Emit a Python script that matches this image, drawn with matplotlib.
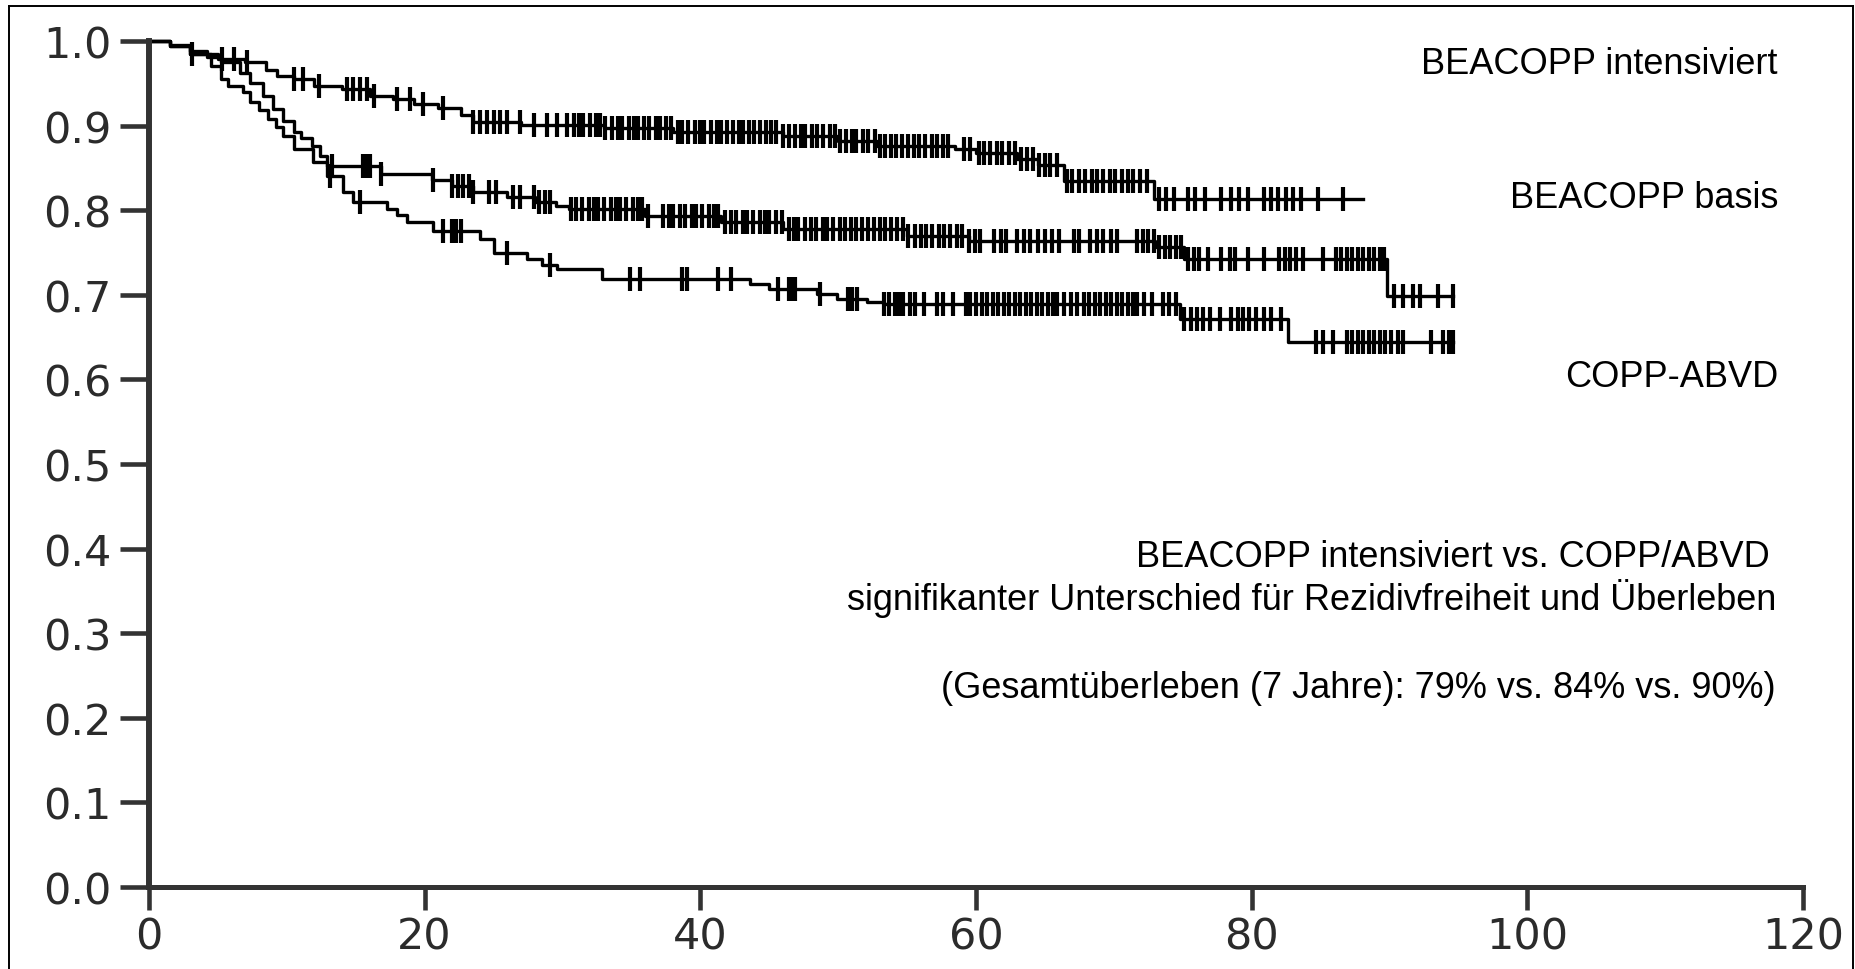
import numpy as np
import matplotlib
matplotlib.use("Agg")
import matplotlib.pyplot as plt
from matplotlib.lines import Line2D

# Kaplan-Meier Stufen (Monate, Anteil ohne Ereignis)
intens_t = [0, 1.5, 3.0, 5.0, 7.0, 8.5, 9.3, 10.5, 12.0, 14.0, 16.0, 17.7, 19.2, 21.0,
            22.6, 23.5, 27.0, 33.0, 38.0, 46.0, 50.0, 52.8, 58.5, 60.0, 63.0, 64.5,
            66.4, 72.9, 88.1]
intens_s = [1.0, 0.994, 0.985, 0.979, 0.975, 0.966, 0.959, 0.955, 0.947, 0.943, 0.935,
            0.931, 0.925, 0.921, 0.912, 0.904, 0.901, 0.897, 0.892, 0.888, 0.882, 0.876,
            0.872, 0.868, 0.861, 0.853, 0.834, 0.813, 0.813]

basis_t = [0, 1.5, 3.0, 4.2, 5.2, 6.6, 7.3, 8.3, 9.0, 9.7, 10.5, 11.0, 11.8, 12.4, 12.9,
           16.8, 20.5, 22.0, 23.5, 26.0, 28.0, 29.5, 30.5, 36.0, 41.5, 46.0, 55.0, 59.5,
           73.0, 75.1, 89.8, 94.6]
basis_s = [1.0, 0.995, 0.988, 0.981, 0.975, 0.962, 0.950, 0.935, 0.920, 0.905, 0.893,
           0.885, 0.876, 0.864, 0.852, 0.843, 0.836, 0.829, 0.822, 0.816, 0.810, 0.805,
           0.801, 0.793, 0.786, 0.778, 0.770, 0.764, 0.757, 0.742, 0.698, 0.698]

copp_t = [0, 1.5, 3.0, 4.5, 5.2, 5.7, 6.8, 7.3, 8.0, 8.6, 9.2, 9.7, 10.5, 11.9, 12.9,
          14.1, 14.8, 17.3, 18.0, 18.7, 20.6, 24.0, 25.0, 27.4, 28.5, 29.6, 32.9, 43.6,
          45.0, 48.5, 49.9, 52.1, 53.3, 74.8, 82.6, 94.6]
copp_s = [1.0, 0.994, 0.985, 0.970, 0.955, 0.947, 0.940, 0.928, 0.918, 0.908, 0.898,
          0.888, 0.872, 0.857, 0.840, 0.821, 0.810, 0.802, 0.794, 0.786, 0.776, 0.766,
          0.750, 0.742, 0.735, 0.730, 0.719, 0.713, 0.707, 0.701, 0.695, 0.691, 0.689,
          0.671, 0.644, 0.644]

# zensierte Beobachtungen
intens_cens = [3.1, 5.3, 6.2, 7.1, 10.5, 11.2, 12.3, 14.4, 14.8, 15.3, 15.8, 16.3, 18.0,
               18.9, 19.9, 21.3, 23.5, 24.0, 24.5, 25.0, 25.5, 26.0, 26.9, 27.9, 28.9,
               29.6, 30.3, 30.8, 31.2, 31.5, 32.0, 32.4, 32.7, 33.1, 33.6, 34.0, 34.3,
               34.8, 35.2, 35.5, 35.9, 36.3, 36.8, 37.1, 37.5, 37.9, 38.4, 38.7, 39.1,
               39.6, 40.0, 40.3, 40.8, 41.2, 41.5, 41.9, 42.4, 42.8, 43.1, 43.5, 43.9,
               44.3, 44.8, 45.1, 45.5, 46.0, 46.4, 46.9, 47.3, 47.6, 48.1, 48.5, 48.9,
               49.4, 49.8, 50.1, 50.6, 51.0, 51.3, 51.8, 52.2, 52.7, 53.0, 53.4, 53.8,
               54.2, 54.6, 55.1, 55.5, 55.9, 56.3, 56.8, 57.2, 57.6, 58.0, 59.1, 59.6,
               60.2, 60.6, 61.0, 61.5, 61.9, 62.4, 62.8, 63.3, 63.7, 64.1, 64.6, 65.0,
               65.4, 65.9, 66.6, 67.0, 67.5, 67.9, 68.4, 68.8, 69.2, 69.7, 70.1, 70.6,
               71.0, 71.4, 71.9, 72.4, 73.3, 73.8, 74.4, 75.4, 75.9, 76.6, 77.8, 78.5,
               79.1, 79.7, 80.9, 81.4, 81.9, 82.5, 83.0, 83.6, 84.8, 86.6]

basis_cens = [13.3, 15.5, 15.8, 16.0, 16.8, 20.6, 22.0, 22.4, 22.8, 23.2, 23.5, 24.7,
              25.2, 26.4, 26.9, 27.9, 28.3, 28.7, 29.1, 30.6, 31.0, 31.4, 31.9, 32.3,
              32.6, 33.0, 33.5, 33.9, 34.2, 34.6, 35.1, 35.5, 35.8, 36.2, 37.3, 37.7,
              38.0, 38.5, 38.9, 39.4, 39.7, 40.1, 40.6, 41.0, 41.3, 41.8, 42.2, 42.6,
              43.1, 43.4, 43.8, 44.3, 44.7, 45.0, 45.5, 45.9, 46.4, 46.8, 47.1, 47.6,
              48.0, 48.4, 48.9, 49.2, 49.6, 50.1, 50.5, 50.9, 51.3, 51.7, 52.2, 52.6,
              53.0, 53.4, 53.8, 54.3, 54.7, 55.1, 55.6, 56.0, 56.4, 56.8, 57.3, 57.7,
              58.1, 58.6, 59.0, 59.5, 59.9, 60.3, 61.3, 61.8, 62.2, 63.0, 63.5, 63.9,
              64.5, 65.0, 65.5, 66.0, 67.1, 67.5, 68.3, 68.8, 69.2, 69.8, 70.2, 71.7,
              72.1, 72.5, 72.9, 73.3, 73.7, 74.1, 74.5, 74.9, 75.4, 75.8, 76.2, 76.8,
              77.8, 78.4, 78.8, 79.7, 80.9, 82.0, 82.4, 82.8, 83.2, 83.7, 85.2, 86.1,
              86.5, 86.9, 87.3, 87.7, 88.1, 88.5, 88.9, 89.3, 89.6, 90.3, 91.0, 91.7,
              92.2, 93.5, 94.6]

copp_cens = [13.1, 15.3, 21.3, 22.0, 22.3, 22.6, 26.0, 29.1, 34.9, 35.6, 38.7, 39.0,
             41.3, 42.2, 45.6, 46.4, 46.7, 46.9, 48.7, 50.7, 51.0, 51.4, 53.3, 53.7,
             54.1, 54.4, 54.7, 55.2, 55.6, 56.2, 57.2, 57.6, 58.3, 59.3, 59.6, 60.0,
             60.4, 60.8, 61.2, 61.6, 62.0, 62.4, 62.8, 63.2, 63.6, 64.0, 64.4, 64.8,
             65.2, 65.6, 65.9, 66.4, 66.9, 67.3, 67.8, 68.2, 68.6, 69.0, 69.4, 69.8,
             70.2, 70.6, 71.0, 71.4, 71.7, 72.2, 72.8, 73.6, 74.0, 74.5, 75.1, 75.6,
             76.0, 76.5, 77.0, 77.7, 78.5, 79.0, 79.4, 79.8, 80.3, 80.9, 81.4, 82.1,
             84.7, 85.2, 85.9, 86.9, 87.3, 87.7, 88.1, 88.5, 88.9, 89.3, 89.7, 90.1,
             90.6, 91.0, 93.0, 93.9, 94.3, 94.6]

x_ticks = [0, 20, 40, 60, 80, 100, 120]
y_ticks = [0.0, 0.1, 0.2, 0.3, 0.4, 0.5, 0.6, 0.7, 0.8, 0.9, 1.0]

arm_labels = ["BEACOPP intensiviert", "BEACOPP basis", "COPP-ABVD"]
note_lines = ["BEACOPP intensiviert vs. COPP/ABVD",
              "signifikanter Unterschied für Rezidivfreiheit und Überleben",
              "(Gesamtüberleben (7 Jahre): 79% vs. 84% vs. 90%)"]


def draw_km(ax, t, s, cens):
    t = np.asarray(t)
    s = np.asarray(s)
    ax.step(t, s, where="post", color="black", lw=2.4, clip_on=False)
    idx = np.searchsorted(t, cens, side="right") - 1
    ax.plot(cens, s[idx], ls="none", marker="|", ms=17, mew=3.0,
            color="black", clip_on=False)


W, H = 1856, 970
fig = plt.figure(figsize=(W / 100, H / 100), dpi=100)
ax = fig.add_axes([149 / W, 1 - 888 / H, (1803 - 149) / W, (888 - 42) / H])

draw_km(ax, intens_t, intens_s, intens_cens)
draw_km(ax, basis_t, basis_s, basis_cens)
draw_km(ax, copp_t, copp_s, copp_cens)

ax.set_xlim(0, 120)
ax.set_ylim(0, 1.0)
ax.set_xticks(x_ticks)
ax.set_yticks(y_ticks)
ax.set_xticklabels([str(v) for v in x_ticks])
ax.set_yticklabels(["%.1f" % v for v in y_ticks])

for side in ["top", "right"]:
    ax.spines[side].set_visible(False)
ax.spines["left"].set_color("#333333")
ax.spines["left"].set_linewidth(4.3)
ax.spines["bottom"].set_color("#333333")
ax.spines["bottom"].set_linewidth(3.6)

ax.tick_params(axis="y", length=21, width=3.3, pad=6, color="#333333",
               labelsize=31, labelcolor="#2b2b2b")
ax.tick_params(axis="x", length=16.5, width=3.3, pad=4, color="#333333",
               labelsize=31, labelcolor="#2b2b2b")
for lab in ax.get_xticklabels() + ax.get_yticklabels():
    lab.set_fontfamily("DejaVu Sans")

# Beschriftung der Therapiearme und Anmerkungen
txt = dict(family="Liberation Sans", fontsize=26, color="black",
           ha="right", va="baseline")
for label, ypx in zip(arm_labels, [74, 208, 387]):
    fig.text(1778 / W, 1 - ypx / H, label, **txt)
for line, xpx, ypx in zip(note_lines, [1770, 1776, 1776], [567, 610, 698]):
    fig.text(xpx / W, 1 - ypx / H, line, **txt)

# Rahmen
frame = dict(transform=fig.transFigure, color="black", lw=1.4)
fig.add_artist(Line2D([9 / W, 9 / W], [0, 1 - 6.5 / H], **frame))
fig.add_artist(Line2D([9 / W, 1853 / W], [1 - 6.5 / H, 1 - 6.5 / H], **frame))
fig.add_artist(Line2D([1853 / W, 1853 / W], [0, 1 - 6.5 / H], **frame))

fig.savefig("out.png", dpi=100, facecolor="white")
